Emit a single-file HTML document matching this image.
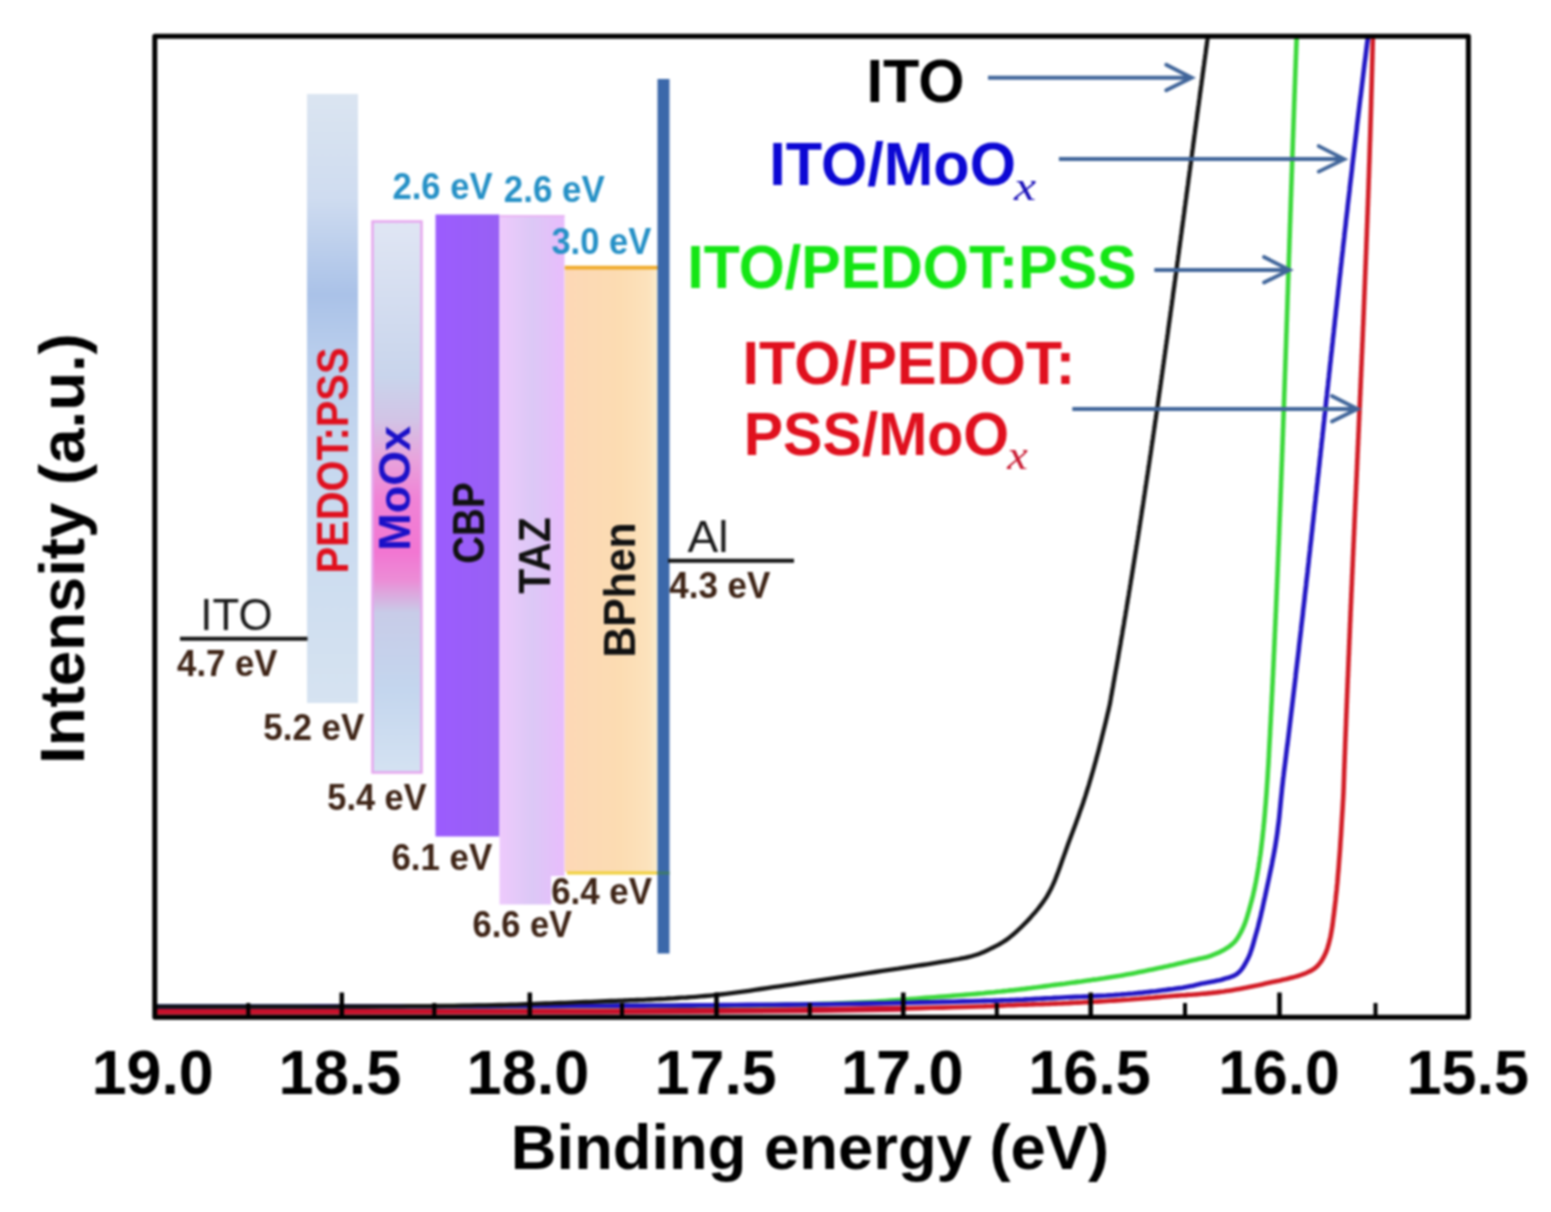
<!DOCTYPE html>
<html><head><meta charset="utf-8"><title>UPS spectra</title>
<style>html,body{margin:0;padding:0;background:#fff;}svg{display:block;}#wrap{width:1551px;height:1212px;filter:blur(1px);}</style></head>
<body><div id="wrap"><svg width="1551" height="1212" viewBox="0 0 1551 1212">
<rect width="1551" height="1212" fill="#fff"/>
<defs>
<linearGradient id="gPed" x1="0" y1="0" x2="0" y2="1">
 <stop offset="0" stop-color="#dbe5f1"/><stop offset="0.17" stop-color="#cfdcf0"/><stop offset="0.33" stop-color="#aac2e8"/><stop offset="0.42" stop-color="#b8cdec"/><stop offset="0.6" stop-color="#c6d8ef"/><stop offset="1" stop-color="#d6e3f1"/>
</linearGradient>
<linearGradient id="gMoo" x1="0" y1="0" x2="0" y2="1">
 <stop offset="0" stop-color="#e0e6f4"/><stop offset="0.28" stop-color="#c9d5ec"/><stop offset="0.36" stop-color="#d2c4e6"/><stop offset="0.43" stop-color="#e8a4dc"/><stop offset="0.50" stop-color="#f084d6"/>
 <stop offset="0.60" stop-color="#f276d2"/><stop offset="0.65" stop-color="#ec8cd6"/><stop offset="0.71" stop-color="#c8cce8"/><stop offset="0.85" stop-color="#c4d6ee"/><stop offset="1" stop-color="#d4e2f2"/>
</linearGradient>
<linearGradient id="gTaz" x1="0" y1="0" x2="1" y2="0">
 <stop offset="0" stop-color="#eecafc"/><stop offset="0.5" stop-color="#dcc8f6"/><stop offset="1" stop-color="#e8bcfc"/>
</linearGradient>
<linearGradient id="gBph" x1="0" y1="0" x2="1" y2="0">
 <stop offset="0" stop-color="#fdd8b6"/><stop offset="0.6" stop-color="#fcdcb2"/><stop offset="0.9" stop-color="#fce2bc"/><stop offset="1" stop-color="#faeccc"/>
</linearGradient>
<linearGradient id="gCbp" x1="0" y1="0" x2="1" y2="0">
 <stop offset="0" stop-color="#9c5cfe"/><stop offset="1" stop-color="#9860f4"/>
</linearGradient>
</defs>
<rect x="307" y="94" width="51" height="609" fill="url(#gPed)"/>
<rect x="372.5" y="221.5" width="49" height="551" fill="url(#gMoo)" stroke="#e6a6ee" stroke-width="2.5"/>
<rect x="435.5" y="214.5" width="64" height="622" fill="url(#gCbp)"/>
<rect x="499.5" y="215" width="65" height="689.5" fill="url(#gTaz)"/>
<line x1="499.5" y1="216" x2="564.5" y2="216" stroke="#e8b4f2" stroke-width="2"/>
<rect x="564.8" y="267" width="92.5" height="605" fill="url(#gBph)"/>
<line x1="564.8" y1="267.6" x2="658" y2="267.6" stroke="#f0aa2a" stroke-width="3.6"/>
<line x1="567" y1="873" x2="657.5" y2="873" stroke="#f0d038" stroke-width="3"/>
<rect x="551" y="876" width="104" height="32" fill="#ffffff"/>
<rect x="657.5" y="79" width="12" height="874.5" fill="#3b68aa"/>
<line x1="657.5" y1="873" x2="669.5" y2="873" stroke="#3e7a6a" stroke-width="3"/>
<line x1="180" y1="638.7" x2="307.5" y2="638.7" stroke="#151515" stroke-width="4"/>
<line x1="668" y1="560.8" x2="794" y2="560.8" stroke="#151515" stroke-width="4"/>
<text x="392.5" y="198.7" font-family="'Liberation Sans', sans-serif" font-weight="bold" font-style="normal" font-size="36" fill="#2590c6" textLength="100.1" lengthAdjust="spacingAndGlyphs">2.6 eV</text>
<text x="503.8" y="201.6" font-family="'Liberation Sans', sans-serif" font-weight="bold" font-style="normal" font-size="36" fill="#2590c6" textLength="101.0" lengthAdjust="spacingAndGlyphs">2.6 eV</text>
<text x="551.4" y="253.8" font-family="'Liberation Sans', sans-serif" font-weight="bold" font-style="normal" font-size="36" fill="#2590c6" textLength="99.8" lengthAdjust="spacingAndGlyphs">3.0 eV</text>
<text x="177.1" y="675.8" font-family="'Liberation Sans', sans-serif" font-weight="bold" font-style="normal" font-size="36" fill="#3e2416" textLength="100.3" lengthAdjust="spacingAndGlyphs">4.7 eV</text>
<text x="263.3" y="739.7" font-family="'Liberation Sans', sans-serif" font-weight="bold" font-style="normal" font-size="36" fill="#3e2416" textLength="100.9" lengthAdjust="spacingAndGlyphs">5.2 eV</text>
<text x="327.3" y="810.1" font-family="'Liberation Sans', sans-serif" font-weight="bold" font-style="normal" font-size="36" fill="#3e2416" textLength="99.3" lengthAdjust="spacingAndGlyphs">5.4 eV</text>
<text x="391.4" y="869.7" font-family="'Liberation Sans', sans-serif" font-weight="bold" font-style="normal" font-size="36" fill="#3e2416" textLength="100.8" lengthAdjust="spacingAndGlyphs">6.1 eV</text>
<text x="551.2" y="904.3" font-family="'Liberation Sans', sans-serif" font-weight="bold" font-style="normal" font-size="36" fill="#3e2416" textLength="100.8" lengthAdjust="spacingAndGlyphs">6.4 eV</text>
<text x="472.5" y="936.5" font-family="'Liberation Sans', sans-serif" font-weight="bold" font-style="normal" font-size="36" fill="#3e2416" textLength="99.6" lengthAdjust="spacingAndGlyphs">6.6 eV</text>
<text x="669.3" y="598.1" font-family="'Liberation Sans', sans-serif" font-weight="bold" font-style="normal" font-size="36" fill="#3e2416" textLength="101.1" lengthAdjust="spacingAndGlyphs">4.3 eV</text>
<text x="200.3" y="629.8" font-family="'Liberation Sans', sans-serif" font-weight="normal" font-style="normal" font-size="45" fill="#1a1a1a" textLength="72.2" lengthAdjust="spacingAndGlyphs">ITO</text>
<text x="687.6" y="552.2" font-family="'Liberation Sans', sans-serif" font-weight="normal" font-style="normal" font-size="45" fill="#1a1a1a" textLength="41.0" lengthAdjust="spacingAndGlyphs">Al</text>
<text transform="translate(347.8,573.6) rotate(-90)" x="0" y="0" font-family="'Liberation Sans', sans-serif" font-weight="bold" font-style="normal" font-size="45" fill="#e0101e" textLength="226.2" lengthAdjust="spacingAndGlyphs">PEDOT:PSS</text>
<text transform="translate(410.2,550.7) rotate(-90)" x="0" y="0" font-family="'Liberation Sans', sans-serif" font-weight="bold" font-style="normal" font-size="45" fill="#1a10c8" textLength="124.8" lengthAdjust="spacingAndGlyphs">MoOx</text>
<text transform="translate(484.4,563.8) rotate(-90)" x="0" y="0" font-family="'Liberation Sans', sans-serif" font-weight="bold" font-style="normal" font-size="45" fill="#111111" textLength="81.4" lengthAdjust="spacingAndGlyphs">CBP</text>
<text transform="translate(549.8,593.8) rotate(-90)" x="0" y="0" font-family="'Liberation Sans', sans-serif" font-weight="bold" font-style="normal" font-size="45" fill="#111111" textLength="76.7" lengthAdjust="spacingAndGlyphs">TAZ</text>
<text transform="translate(634.5,657.5) rotate(-90)" x="0" y="0" font-family="'Liberation Sans', sans-serif" font-weight="bold" font-style="normal" font-size="45" fill="#111111" textLength="135.2" lengthAdjust="spacingAndGlyphs">BPhen</text>
<clipPath id="clip"><rect x="154.8" y="36.3" width="1313.6" height="981.0"/></clipPath>
<g clip-path="url(#clip)" fill="none" stroke-linejoin="round" stroke-linecap="round">
<path d="M1373.2,20.0 L1373.2,21.7 L1373.2,23.3 L1373.1,25.0 L1373.1,26.7 L1373.0,28.3 L1373.0,30.0 L1373.0,31.7 L1372.9,33.3 L1372.9,35.0 L1372.9,36.7 L1372.8,38.3 L1372.8,40.0 L1372.8,41.7 L1372.7,43.3 L1372.7,45.0 L1372.6,46.7 L1372.6,48.3 L1372.6,50.0 L1372.5,51.7 L1372.5,53.3 L1372.4,55.0 L1372.4,56.7 L1372.4,58.3 L1372.3,60.0 L1372.3,61.7 L1372.2,63.3 L1372.2,65.0 L1372.1,66.7 L1372.1,68.3 L1372.1,70.0 L1372.0,71.7 L1372.0,73.3 L1371.9,75.0 L1371.9,76.7 L1371.8,78.3 L1371.8,80.0 L1371.8,81.7 L1371.7,83.3 L1371.7,85.0 L1371.6,86.7 L1371.6,88.3 L1371.5,90.0 L1371.5,91.7 L1371.4,93.3 L1371.4,95.0 L1371.3,96.7 L1371.3,98.3 L1371.2,100.0 L1371.2,101.7 L1371.2,103.3 L1371.1,105.0 L1371.1,106.7 L1371.0,108.3 L1371.0,110.0 L1370.9,111.7 L1370.9,113.3 L1370.8,115.0 L1370.8,116.7 L1370.7,118.3 L1370.7,120.0 L1370.6,121.7 L1370.6,123.3 L1370.5,125.0 L1370.5,126.7 L1370.4,128.3 L1370.4,130.0 L1370.3,131.7 L1370.3,133.3 L1370.2,135.0 L1370.2,136.7 L1370.1,138.3 L1370.1,140.0 L1370.0,141.7 L1369.9,143.3 L1369.9,145.0 L1369.8,146.7 L1369.8,148.3 L1369.7,150.0 L1369.7,151.7 L1369.6,153.3 L1369.6,155.0 L1369.5,156.7 L1369.5,158.3 L1369.4,160.0 L1369.4,161.7 L1369.3,163.3 L1369.2,165.0 L1369.2,166.7 L1369.1,168.3 L1369.1,170.0 L1369.0,171.7 L1369.0,173.3 L1368.9,175.0 L1368.9,176.7 L1368.8,178.3 L1368.7,180.0 L1368.7,181.7 L1368.6,183.3 L1368.6,185.0 L1368.5,186.7 L1368.5,188.3 L1368.4,190.0 L1368.3,191.7 L1368.3,193.3 L1368.2,195.0 L1368.2,196.7 L1368.1,198.3 L1368.0,200.0 L1368.0,201.7 L1367.9,203.3 L1367.9,205.0 L1367.8,206.7 L1367.7,208.3 L1367.7,210.0 L1367.6,211.7 L1367.6,213.3 L1367.5,215.0 L1367.4,216.7 L1367.4,218.3 L1367.3,220.0 L1367.3,221.7 L1367.2,223.3 L1367.1,225.0 L1367.1,226.7 L1367.0,228.3 L1366.9,230.0 L1366.9,231.7 L1366.8,233.3 L1366.8,235.0 L1366.7,236.7 L1366.6,238.3 L1366.6,240.0 L1366.5,241.7 L1366.4,243.3 L1366.4,245.0 L1366.3,246.7 L1366.3,248.3 L1366.2,250.0 L1366.1,251.7 L1366.1,253.3 L1366.0,255.0 L1365.9,256.7 L1365.9,258.3 L1365.8,260.0 L1365.7,261.7 L1365.7,263.3 L1365.6,265.0 L1365.5,266.7 L1365.5,268.3 L1365.4,270.0 L1365.3,271.7 L1365.3,273.3 L1365.2,275.0 L1365.1,276.7 L1365.1,278.3 L1365.0,280.0 L1364.9,281.7 L1364.9,283.3 L1364.8,285.0 L1364.7,286.7 L1364.7,288.3 L1364.6,290.0 L1364.5,291.7 L1364.5,293.3 L1364.4,295.0 L1364.3,296.7 L1364.3,298.3 L1364.2,300.0 L1364.1,301.7 L1364.1,303.3 L1364.0,305.0 L1363.9,306.7 L1363.9,308.3 L1363.8,310.0 L1363.7,311.7 L1363.7,313.3 L1363.6,315.0 L1363.5,316.7 L1363.5,318.3 L1363.4,320.0 L1363.3,321.7 L1363.3,323.3 L1363.2,325.0 L1363.1,326.7 L1363.0,328.3 L1363.0,330.0 L1362.9,331.7 L1362.8,333.3 L1362.8,335.0 L1362.7,336.7 L1362.6,338.3 L1362.6,340.0 L1362.5,341.7 L1362.4,343.3 L1362.3,345.0 L1362.3,346.7 L1362.2,348.3 L1362.1,350.0 L1362.1,351.7 L1362.0,353.3 L1361.9,355.0 L1361.8,356.7 L1361.8,358.3 L1361.7,360.0 L1361.6,361.7 L1361.6,363.3 L1361.5,365.0 L1361.4,366.7 L1361.3,368.3 L1361.3,370.0 L1361.2,371.7 L1361.1,373.3 L1361.1,375.0 L1361.0,376.7 L1360.9,378.3 L1360.8,380.0 L1360.8,381.7 L1360.7,383.3 L1360.6,385.0 L1360.6,386.7 L1360.5,388.3 L1360.4,390.0 L1360.3,391.7 L1360.3,393.3 L1360.2,395.0 L1360.1,396.7 L1360.0,398.3 L1360.0,400.0 L1359.9,401.7 L1359.8,403.3 L1359.8,405.0 L1359.7,406.7 L1359.6,408.3 L1359.5,410.0 L1359.5,411.7 L1359.4,413.3 L1359.3,415.0 L1359.2,416.7 L1359.2,418.3 L1359.1,420.0 L1359.0,421.7 L1358.9,423.3 L1358.9,425.0 L1358.8,426.7 L1358.7,428.3 L1358.7,430.0 L1358.6,431.7 L1358.5,433.3 L1358.4,435.0 L1358.4,436.7 L1358.3,438.3 L1358.2,440.0 L1358.1,441.7 L1358.1,443.3 L1358.0,445.0 L1357.9,446.7 L1357.8,448.3 L1357.8,450.0 L1357.7,451.7 L1357.6,453.3 L1357.5,455.0 L1357.5,456.7 L1357.4,458.3 L1357.3,460.0 L1357.2,461.7 L1357.2,463.3 L1357.1,465.0 L1357.0,466.7 L1357.0,468.3 L1356.9,470.0 L1356.8,471.7 L1356.7,473.3 L1356.7,475.0 L1356.6,476.7 L1356.5,478.3 L1356.4,480.0 L1356.4,481.7 L1356.3,483.3 L1356.2,485.0 L1356.1,486.7 L1356.1,488.3 L1356.0,490.0 L1355.9,491.7 L1355.8,493.3 L1355.8,495.0 L1355.7,496.7 L1355.6,498.3 L1355.5,500.0 L1355.5,501.7 L1355.4,503.3 L1355.3,505.0 L1355.2,506.7 L1355.2,508.3 L1355.1,510.0 L1355.0,511.7 L1354.9,513.3 L1354.9,515.0 L1354.8,516.7 L1354.7,518.3 L1354.6,520.0 L1354.6,521.7 L1354.5,523.3 L1354.4,525.0 L1354.4,526.7 L1354.3,528.3 L1354.2,530.0 L1354.1,531.7 L1354.1,533.3 L1354.0,535.0 L1353.9,536.7 L1353.8,538.3 L1353.8,540.0 L1353.7,541.7 L1353.6,543.3 L1353.5,545.0 L1353.5,546.7 L1353.4,548.3 L1353.3,550.0 L1353.2,551.7 L1353.2,553.3 L1353.1,555.0 L1353.0,556.7 L1352.9,558.3 L1352.9,560.0 L1352.8,561.7 L1352.7,563.3 L1352.7,565.0 L1352.6,566.7 L1352.5,568.3 L1352.4,570.0 L1352.4,571.7 L1352.3,573.3 L1352.2,575.0 L1352.1,576.7 L1352.1,578.3 L1352.0,580.0 L1351.9,581.7 L1351.9,583.3 L1351.8,585.0 L1351.7,586.7 L1351.6,588.3 L1351.6,590.0 L1351.5,591.7 L1351.4,593.3 L1351.3,595.0 L1351.3,596.7 L1351.2,598.3 L1351.1,600.0 L1351.1,601.7 L1351.0,603.3 L1350.9,605.0 L1350.8,606.7 L1350.8,608.3 L1350.7,610.0 L1350.6,611.7 L1350.5,613.3 L1350.5,615.0 L1350.4,616.7 L1350.3,618.3 L1350.3,620.0 L1350.2,621.7 L1350.1,623.3 L1350.0,625.0 L1350.0,626.7 L1349.9,628.3 L1349.8,630.0 L1349.8,631.7 L1349.7,633.3 L1349.6,635.0 L1349.6,636.7 L1349.5,638.3 L1349.4,640.0 L1349.3,641.7 L1349.3,643.3 L1349.2,645.0 L1349.1,646.7 L1349.1,648.3 L1349.0,650.0 L1348.9,651.7 L1348.9,653.3 L1348.8,655.0 L1348.7,656.7 L1348.6,658.3 L1348.6,660.0 L1348.5,661.7 L1348.4,663.3 L1348.4,665.0 L1348.3,666.7 L1348.2,668.3 L1348.2,670.0 L1348.1,671.7 L1348.0,673.3 L1348.0,675.0 L1347.9,676.7 L1347.8,678.3 L1347.7,680.0 L1347.7,681.7 L1347.6,683.3 L1347.5,685.0 L1347.5,686.7 L1347.4,688.3 L1347.3,690.0 L1347.3,691.7 L1347.2,693.3 L1347.1,695.0 L1347.1,696.7 L1347.0,698.3 L1346.9,700.0 L1346.9,701.7 L1346.8,703.3 L1346.7,705.0 L1346.7,706.7 L1346.6,708.3 L1346.5,710.0 L1346.5,711.7 L1346.4,713.3 L1346.3,715.0 L1346.3,716.7 L1346.2,718.3 L1346.1,720.0 L1346.1,721.7 L1346.0,723.3 L1346.0,725.0 L1345.9,726.7 L1345.8,728.3 L1345.8,730.0 L1345.7,731.7 L1345.6,733.3 L1345.6,735.0 L1345.5,736.7 L1345.4,738.3 L1345.4,740.0 L1345.3,741.7 L1345.2,743.3 L1345.2,745.0 L1345.1,746.7 L1345.1,748.3 L1345.0,750.0 L1344.9,751.7 L1344.9,753.3 L1344.8,755.0 L1344.7,756.7 L1344.7,758.3 L1344.6,760.0 L1344.6,761.7 L1344.5,763.4 L1344.4,765.1 L1344.4,766.8 L1344.3,768.5 L1344.2,770.2 L1344.2,771.9 L1344.1,773.6 L1344.1,775.3 L1344.0,776.9 L1344.0,778.5 L1343.9,780.0 L1343.9,781.2 L1343.8,782.4 L1343.8,783.4 L1343.8,784.4 L1343.7,785.5 L1343.7,786.5 L1343.7,787.5 L1343.6,788.6 L1343.6,789.8 L1343.5,791.1 L1343.5,792.5 L1343.4,794.0 L1343.2,798.1 L1342.9,803.0 L1342.6,808.6 L1342.2,814.7 L1341.8,821.2 L1341.4,827.9 L1341.0,834.8 L1340.5,841.7 L1340.1,848.4 L1339.6,854.9 L1339.1,861.0 L1338.7,866.6 L1338.4,870.6 L1338.0,874.6 L1337.7,878.4 L1337.4,882.2 L1337.0,885.9 L1336.7,889.5 L1336.3,893.1 L1335.9,896.5 L1335.6,900.0 L1335.2,903.3 L1334.8,906.6 L1334.4,909.9 L1334.1,912.5 L1333.8,915.2 L1333.4,917.7 L1333.1,920.3 L1332.8,922.8 L1332.5,925.2 L1332.1,927.6 L1331.7,930.0 L1331.3,932.3 L1330.9,934.5 L1330.5,936.7 L1330.0,938.8 L1329.6,940.4 L1329.2,942.0 L1328.8,943.6 L1328.4,945.1 L1327.9,946.6 L1327.5,948.0 L1327.0,949.5 L1326.5,950.9 L1326.0,952.2 L1325.4,953.5 L1324.8,954.8 L1324.2,956.1 L1323.6,957.2 L1323.0,958.3 L1322.4,959.3 L1321.8,960.4 L1321.1,961.4 L1320.4,962.4 L1319.7,963.3 L1318.9,964.2 L1318.2,965.1 L1317.4,966.0 L1316.5,966.8 L1315.6,967.6 L1314.6,968.4 L1313.6,969.1 L1312.5,969.8 L1311.4,970.5 L1310.2,971.1 L1309.1,971.7 L1307.8,972.2 L1306.6,972.8 L1305.3,973.3 L1303.9,973.8 L1302.5,974.4 L1301.1,974.9 L1299.1,975.6 L1297.0,976.3 L1294.8,976.9 L1292.5,977.5 L1290.1,978.1 L1287.7,978.7 L1285.2,979.3 L1282.7,979.8 L1280.1,980.4 L1277.5,980.9 L1274.9,981.5 L1272.2,982.1 L1268.9,982.8 L1265.4,983.6 L1261.8,984.4 L1258.1,985.2 L1254.4,985.9 L1250.6,986.7 L1246.8,987.5 L1243.0,988.2 L1239.3,988.9 L1235.7,989.6 L1232.2,990.2 L1228.9,990.7 L1226.3,991.1 L1223.7,991.5 L1221.2,991.8 L1218.8,992.1 L1216.4,992.4 L1214.0,992.6 L1211.6,992.9 L1209.3,993.1 L1207.0,993.4 L1204.6,993.6 L1202.3,993.8 L1200.0,994.0 L1197.9,994.2 L1195.8,994.4 L1193.7,994.5 L1191.6,994.7 L1189.6,994.8 L1187.6,994.9 L1185.5,995.1 L1183.5,995.2 L1181.4,995.3 L1179.2,995.5 L1177.0,995.6 L1174.7,995.8 L1171.8,996.0 L1168.7,996.3 L1165.6,996.5 L1162.4,996.8 L1159.2,997.1 L1155.9,997.4 L1152.5,997.7 L1149.2,997.9 L1145.9,998.2 L1142.5,998.5 L1139.3,998.8 L1136.0,999.0 L1132.8,999.2 L1129.6,999.5 L1126.3,999.7 L1123.1,999.9 L1119.9,1000.2 L1116.7,1000.4 L1113.5,1000.6 L1110.3,1000.8 L1107.1,1001.0 L1103.8,1001.2 L1100.6,1001.4 L1097.4,1001.6 L1094.2,1001.8 L1091.0,1002.0 L1087.7,1002.1 L1084.5,1002.3 L1081.3,1002.5 L1078.1,1002.6 L1074.8,1002.8 L1071.6,1002.9 L1068.4,1003.1 L1065.2,1003.2 L1061.9,1003.4 L1058.7,1003.5 L1055.5,1003.6 L1052.3,1003.7 L1049.0,1003.9 L1045.8,1004.0 L1042.6,1004.1 L1039.4,1004.2 L1036.2,1004.3 L1032.9,1004.4 L1029.7,1004.5 L1026.5,1004.6 L1023.2,1004.7 L1020.0,1004.8 L1016.8,1004.9 L1013.6,1005.1 L1010.6,1005.2 L1007.6,1005.3 L1004.5,1005.5 L1001.5,1005.6 L998.3,1005.8 L995.1,1005.9 L991.6,1006.1 L988.0,1006.2 L984.1,1006.4 L980.0,1006.5 L971.8,1006.8 L962.8,1007.0 L953.0,1007.3 L942.5,1007.6 L931.6,1007.8 L920.2,1008.1 L908.6,1008.4 L896.8,1008.6 L884.9,1008.9 L873.1,1009.1 L861.4,1009.3 L850.0,1009.5 L837.9,1009.7 L825.9,1009.9 L813.8,1010.0 L801.6,1010.2 L789.4,1010.3 L777.0,1010.4 L764.6,1010.5 L752.0,1010.6 L739.3,1010.7 L726.4,1010.8 L713.3,1010.9 L700.0,1011.0 L684.5,1011.1 L668.9,1011.2 L653.3,1011.2 L637.4,1011.3 L621.4,1011.3 L605.1,1011.3 L588.6,1011.4 L571.7,1011.4 L554.4,1011.4 L536.8,1011.4 L518.6,1011.5 L500.0,1011.5 L474.6,1011.5 L448.2,1011.6 L420.7,1011.6 L392.5,1011.6 L363.6,1011.7 L334.2,1011.7 L304.6,1011.7 L274.7,1011.7 L244.9,1011.7 L215.2,1011.8 L185.9,1011.8 L157.0,1011.8" stroke="#d21c26" stroke-width="4.6"/>
<path d="M157,1011.8 L600,1011.4 L800,1010.3 L900,1008.8" stroke="#c8102a" stroke-width="6"/>
<path d="M1297.3,20.0 L1297.3,21.7 L1297.2,23.3 L1297.1,25.0 L1297.1,26.7 L1297.0,28.3 L1296.9,30.0 L1296.9,31.7 L1296.8,33.3 L1296.7,35.0 L1296.7,36.7 L1296.6,38.3 L1296.6,40.0 L1296.5,41.7 L1296.4,43.3 L1296.4,45.0 L1296.3,46.7 L1296.2,48.3 L1296.2,50.0 L1296.1,51.7 L1296.1,53.3 L1296.0,55.0 L1295.9,56.7 L1295.9,58.3 L1295.8,60.0 L1295.7,61.7 L1295.7,63.3 L1295.6,65.0 L1295.6,66.7 L1295.5,68.3 L1295.4,70.0 L1295.4,71.7 L1295.3,73.3 L1295.3,75.0 L1295.2,76.7 L1295.1,78.3 L1295.1,80.0 L1295.0,81.7 L1295.0,83.3 L1294.9,85.0 L1294.8,86.7 L1294.8,88.3 L1294.7,90.0 L1294.7,91.7 L1294.6,93.3 L1294.5,95.0 L1294.5,96.7 L1294.4,98.3 L1294.4,100.0 L1294.3,101.7 L1294.2,103.3 L1294.2,105.0 L1294.1,106.7 L1294.1,108.3 L1294.0,110.0 L1293.9,111.7 L1293.9,113.3 L1293.8,115.0 L1293.8,116.7 L1293.7,118.3 L1293.6,120.0 L1293.6,121.7 L1293.5,123.3 L1293.5,125.0 L1293.4,126.7 L1293.4,128.3 L1293.3,130.0 L1293.2,131.7 L1293.2,133.3 L1293.1,135.0 L1293.1,136.7 L1293.0,138.3 L1292.9,140.0 L1292.9,141.7 L1292.8,143.3 L1292.8,145.0 L1292.7,146.7 L1292.7,148.3 L1292.6,150.0 L1292.5,151.7 L1292.5,153.3 L1292.4,155.0 L1292.4,156.7 L1292.3,158.3 L1292.3,160.0 L1292.2,161.7 L1292.1,163.3 L1292.1,165.0 L1292.0,166.7 L1292.0,168.3 L1291.9,170.0 L1291.9,171.7 L1291.8,173.3 L1291.7,175.0 L1291.7,176.7 L1291.6,178.3 L1291.6,180.0 L1291.5,181.7 L1291.5,183.3 L1291.4,185.0 L1291.3,186.7 L1291.3,188.3 L1291.2,190.0 L1291.2,191.7 L1291.1,193.3 L1291.1,195.0 L1291.0,196.7 L1290.9,198.3 L1290.9,200.0 L1290.8,201.7 L1290.8,203.3 L1290.7,205.0 L1290.7,206.7 L1290.6,208.3 L1290.6,210.0 L1290.5,211.7 L1290.4,213.3 L1290.4,215.0 L1290.3,216.7 L1290.3,218.3 L1290.2,220.0 L1290.2,221.7 L1290.1,223.3 L1290.0,225.0 L1290.0,226.7 L1289.9,228.3 L1289.9,230.0 L1289.8,231.7 L1289.8,233.3 L1289.7,235.0 L1289.7,236.7 L1289.6,238.3 L1289.5,240.0 L1289.5,241.7 L1289.4,243.3 L1289.4,245.0 L1289.3,246.7 L1289.3,248.3 L1289.2,250.0 L1289.2,251.7 L1289.1,253.3 L1289.0,255.0 L1289.0,256.7 L1288.9,258.3 L1288.9,260.0 L1288.8,261.7 L1288.8,263.3 L1288.7,265.0 L1288.7,266.7 L1288.6,268.3 L1288.5,270.0 L1288.5,271.7 L1288.4,273.3 L1288.4,275.0 L1288.3,276.7 L1288.3,278.3 L1288.2,280.0 L1288.1,281.7 L1288.1,283.3 L1288.0,285.0 L1288.0,286.7 L1287.9,288.3 L1287.9,290.0 L1287.8,291.7 L1287.8,293.3 L1287.7,295.0 L1287.6,296.7 L1287.6,298.3 L1287.5,300.0 L1287.5,301.7 L1287.4,303.3 L1287.4,305.0 L1287.3,306.7 L1287.3,308.3 L1287.2,310.0 L1287.1,311.7 L1287.1,313.3 L1287.0,315.0 L1287.0,316.7 L1286.9,318.3 L1286.9,320.0 L1286.8,321.7 L1286.7,323.3 L1286.7,325.0 L1286.6,326.7 L1286.6,328.3 L1286.5,330.0 L1286.5,331.7 L1286.4,333.3 L1286.3,335.0 L1286.3,336.7 L1286.2,338.3 L1286.2,340.0 L1286.1,341.7 L1286.1,343.3 L1286.0,345.0 L1286.0,346.7 L1285.9,348.3 L1285.8,350.0 L1285.8,351.7 L1285.7,353.3 L1285.7,355.0 L1285.6,356.7 L1285.6,358.3 L1285.5,360.0 L1285.4,361.7 L1285.4,363.3 L1285.3,365.0 L1285.3,366.7 L1285.2,368.3 L1285.2,370.0 L1285.1,371.7 L1285.0,373.3 L1285.0,375.0 L1284.9,376.7 L1284.9,378.3 L1284.8,380.0 L1284.7,381.7 L1284.7,383.3 L1284.6,385.0 L1284.6,386.7 L1284.5,388.3 L1284.5,390.0 L1284.4,391.7 L1284.3,393.3 L1284.3,395.0 L1284.2,396.7 L1284.2,398.3 L1284.1,400.0 L1284.0,401.7 L1284.0,403.3 L1283.9,405.0 L1283.9,406.7 L1283.8,408.3 L1283.8,410.0 L1283.7,411.7 L1283.6,413.3 L1283.6,415.0 L1283.5,416.7 L1283.5,418.3 L1283.4,420.0 L1283.3,421.7 L1283.3,423.3 L1283.2,425.0 L1283.2,426.7 L1283.1,428.3 L1283.0,430.0 L1283.0,431.7 L1282.9,433.3 L1282.9,435.0 L1282.8,436.7 L1282.7,438.3 L1282.7,440.0 L1282.6,441.7 L1282.6,443.3 L1282.5,445.0 L1282.4,446.7 L1282.4,448.3 L1282.3,450.0 L1282.3,451.7 L1282.2,453.3 L1282.1,455.0 L1282.1,456.7 L1282.0,458.3 L1282.0,460.0 L1281.9,461.7 L1281.8,463.3 L1281.8,465.0 L1281.7,466.7 L1281.6,468.3 L1281.6,470.0 L1281.5,471.7 L1281.5,473.3 L1281.4,475.0 L1281.3,476.7 L1281.3,478.3 L1281.2,480.0 L1281.1,481.7 L1281.1,483.3 L1281.0,485.0 L1281.0,486.7 L1280.9,488.3 L1280.8,490.0 L1280.8,491.7 L1280.7,493.3 L1280.6,495.0 L1280.6,496.7 L1280.5,498.3 L1280.5,500.0 L1280.4,501.7 L1280.3,503.3 L1280.3,505.0 L1280.2,506.7 L1280.1,508.3 L1280.1,510.0 L1280.0,511.7 L1279.9,513.3 L1279.9,515.0 L1279.8,516.7 L1279.7,518.3 L1279.7,520.0 L1279.6,521.7 L1279.5,523.3 L1279.5,525.0 L1279.4,526.7 L1279.3,528.3 L1279.3,530.0 L1279.2,531.7 L1279.2,533.3 L1279.1,535.0 L1279.0,536.7 L1279.0,538.3 L1278.9,540.0 L1278.8,541.7 L1278.8,543.3 L1278.7,545.0 L1278.6,546.7 L1278.5,548.3 L1278.5,550.0 L1278.4,551.7 L1278.3,553.3 L1278.3,555.0 L1278.2,556.7 L1278.1,558.3 L1278.1,560.0 L1278.0,561.7 L1277.9,563.3 L1277.9,565.0 L1277.8,566.7 L1277.7,568.3 L1277.7,570.0 L1277.6,571.7 L1277.5,573.3 L1277.5,575.0 L1277.4,576.7 L1277.3,578.3 L1277.2,580.0 L1277.2,581.7 L1277.1,583.3 L1277.0,585.0 L1277.0,586.7 L1276.9,588.3 L1276.8,590.0 L1276.7,591.7 L1276.7,593.3 L1276.6,595.0 L1276.5,596.7 L1276.5,598.3 L1276.4,600.0 L1276.3,601.7 L1276.2,603.3 L1276.2,605.0 L1276.1,606.7 L1276.0,608.3 L1276.0,610.0 L1275.9,611.7 L1275.8,613.3 L1275.7,615.0 L1275.7,616.7 L1275.6,618.3 L1275.5,620.0 L1275.4,621.7 L1275.4,623.3 L1275.3,625.0 L1275.2,626.7 L1275.1,628.3 L1275.1,630.0 L1275.0,631.7 L1274.9,633.3 L1274.8,635.0 L1274.8,636.7 L1274.7,638.3 L1274.6,640.0 L1274.5,641.7 L1274.5,643.3 L1274.4,645.0 L1274.3,646.7 L1274.2,648.3 L1274.2,650.0 L1274.1,651.7 L1274.0,653.3 L1273.9,655.0 L1273.8,656.7 L1273.8,658.3 L1273.7,660.0 L1273.6,661.7 L1273.5,663.3 L1273.5,665.0 L1273.4,666.7 L1273.3,668.3 L1273.2,670.0 L1273.1,671.7 L1273.1,673.3 L1273.0,675.0 L1272.9,676.7 L1272.8,678.3 L1272.7,680.0 L1272.7,681.7 L1272.6,683.3 L1272.5,685.0 L1272.4,686.7 L1272.3,688.3 L1272.3,690.0 L1272.2,691.7 L1272.1,693.3 L1272.0,695.0 L1271.9,696.7 L1271.8,698.3 L1271.8,700.0 L1271.7,701.7 L1271.6,703.3 L1271.5,705.0 L1271.4,706.7 L1271.3,708.3 L1271.3,710.0 L1271.2,711.7 L1271.1,713.3 L1271.0,715.0 L1270.9,716.7 L1270.8,718.3 L1270.8,720.0 L1270.7,721.7 L1270.6,723.3 L1270.5,725.0 L1270.4,726.7 L1270.3,728.3 L1270.2,730.0 L1270.1,731.7 L1270.1,733.3 L1270.0,735.0 L1269.9,736.7 L1269.8,738.3 L1269.7,740.0 L1269.6,741.7 L1269.5,743.5 L1269.4,745.3 L1269.3,747.2 L1269.2,749.0 L1269.1,750.8 L1269.0,752.6 L1268.9,754.3 L1268.9,755.9 L1268.8,757.4 L1268.7,758.8 L1268.6,760.0 L1268.6,760.5 L1268.6,761.0 L1268.6,761.4 L1268.5,761.7 L1268.5,762.1 L1268.5,762.4 L1268.5,762.7 L1268.5,763.1 L1268.5,763.5 L1268.4,763.9 L1268.4,764.4 L1268.4,765.0 L1268.2,767.2 L1268.0,770.1 L1267.8,773.4 L1267.6,777.2 L1267.3,781.3 L1267.0,785.6 L1266.7,790.1 L1266.4,794.6 L1266.0,799.2 L1265.7,803.6 L1265.3,807.8 L1265.0,811.7 L1264.7,815.2 L1264.4,818.6 L1264.1,822.1 L1263.7,825.5 L1263.4,828.9 L1263.0,832.3 L1262.7,835.6 L1262.3,839.0 L1261.9,842.3 L1261.5,845.6 L1261.1,848.9 L1260.7,852.1 L1260.3,855.1 L1259.8,858.1 L1259.4,861.1 L1258.9,864.1 L1258.5,867.1 L1258.0,870.1 L1257.5,873.0 L1257.0,875.9 L1256.5,878.7 L1256.0,881.5 L1255.4,884.2 L1254.9,886.8 L1254.5,888.9 L1254.0,891.0 L1253.5,893.0 L1253.1,895.0 L1252.6,897.0 L1252.1,898.9 L1251.6,900.8 L1251.1,902.6 L1250.6,904.5 L1250.1,906.3 L1249.6,908.1 L1249.1,909.9 L1248.7,911.4 L1248.2,913.0 L1247.8,914.5 L1247.3,916.0 L1246.9,917.4 L1246.4,918.9 L1246.0,920.3 L1245.5,921.7 L1245.0,923.1 L1244.5,924.5 L1243.9,925.8 L1243.3,927.2 L1242.7,928.5 L1242.1,929.8 L1241.5,931.1 L1240.8,932.4 L1240.1,933.7 L1239.4,934.9 L1238.7,936.1 L1238.0,937.3 L1237.2,938.5 L1236.4,939.6 L1235.6,940.7 L1234.7,941.7 L1233.9,942.6 L1233.0,943.4 L1232.1,944.2 L1231.2,945.0 L1230.2,945.7 L1229.3,946.5 L1228.3,947.1 L1227.3,947.8 L1226.2,948.4 L1225.2,949.1 L1224.2,949.7 L1223.1,950.3 L1222.0,950.9 L1220.8,951.5 L1219.7,952.1 L1218.5,952.7 L1217.3,953.2 L1216.1,953.7 L1214.9,954.2 L1213.6,954.7 L1212.4,955.2 L1211.2,955.7 L1209.9,956.1 L1208.7,956.5 L1207.5,956.9 L1206.3,957.2 L1205.2,957.5 L1204.1,957.8 L1202.9,958.1 L1201.7,958.3 L1200.6,958.6 L1199.3,958.8 L1198.1,959.1 L1196.8,959.4 L1195.4,959.7 L1194.0,960.0 L1191.8,960.5 L1189.4,961.1 L1186.9,961.7 L1184.3,962.3 L1181.6,962.9 L1178.9,963.5 L1176.1,964.2 L1173.2,964.9 L1170.4,965.5 L1167.5,966.2 L1164.6,966.8 L1161.8,967.4 L1158.7,968.1 L1155.6,968.7 L1152.4,969.4 L1149.2,970.1 L1146.0,970.8 L1142.7,971.4 L1139.5,972.1 L1136.2,972.8 L1132.9,973.4 L1129.7,974.0 L1126.4,974.6 L1123.2,975.2 L1120.0,975.8 L1116.8,976.3 L1113.5,976.8 L1110.3,977.3 L1107.1,977.8 L1103.9,978.3 L1100.6,978.7 L1097.4,979.2 L1094.2,979.6 L1091.0,980.1 L1087.7,980.5 L1084.5,981.0 L1081.3,981.5 L1078.0,981.9 L1074.6,982.4 L1071.3,982.8 L1068.0,983.2 L1064.7,983.7 L1061.4,984.1 L1058.1,984.5 L1054.9,984.9 L1051.8,985.3 L1048.8,985.7 L1045.8,986.1 L1043.5,986.4 L1041.3,986.7 L1039.1,987.0 L1037.0,987.3 L1035.0,987.5 L1032.9,987.8 L1030.9,988.1 L1028.8,988.3 L1026.7,988.6 L1024.6,988.9 L1022.3,989.1 L1020.0,989.4 L1017.0,989.7 L1013.9,990.1 L1010.7,990.4 L1007.5,990.8 L1004.2,991.1 L1000.8,991.5 L997.4,991.8 L994.0,992.2 L990.5,992.5 L987.0,992.8 L983.5,993.2 L980.0,993.5 L976.0,993.9 L972.0,994.2 L968.0,994.5 L963.9,994.9 L959.8,995.2 L955.6,995.5 L951.4,995.9 L947.2,996.2 L943.0,996.5 L938.7,996.8 L934.3,997.2 L930.0,997.5 L925.2,997.9 L920.4,998.3 L915.5,998.7 L910.6,999.1 L905.6,999.5 L900.6,999.9 L895.6,1000.3 L890.6,1000.6 L885.5,1001.0 L880.3,1001.4 L875.2,1001.7 L870.0,1002.0 L864.4,1002.3 L858.8,1002.6 L853.2,1002.9 L847.5,1003.1 L841.9,1003.3 L836.1,1003.6 L830.3,1003.8 L824.5,1003.9 L818.5,1004.1 L812.5,1004.3 L806.3,1004.4 L800.0,1004.6 L792.3,1004.8 L784.4,1004.9 L776.3,1005.0 L768.0,1005.1 L759.6,1005.2 L751.1,1005.2 L742.6,1005.3 L734.0,1005.3 L725.4,1005.4 L716.9,1005.4 L708.4,1005.5 L700.0,1005.5 L691.9,1005.6 L684.2,1005.6 L676.7,1005.6 L669.3,1005.7 L661.9,1005.7 L654.4,1005.7 L646.7,1005.8 L638.6,1005.8 L630.0,1005.8 L620.8,1005.8 L610.8,1005.9 L600.0,1005.9 L574.1,1006.0 L544.4,1006.0 L511.4,1006.1 L475.7,1006.1 L437.8,1006.2 L398.2,1006.3 L357.5,1006.3 L316.3,1006.4 L275.1,1006.4 L234.5,1006.5 L194.9,1006.5 L157.0,1006.6" stroke="#3ad83a" stroke-width="4.6"/>
<path d="M1370.1,20.0 L1369.9,21.7 L1369.7,23.3 L1369.5,25.0 L1369.3,26.7 L1369.0,28.3 L1368.8,30.0 L1368.6,31.7 L1368.4,33.3 L1368.2,35.0 L1368.0,36.7 L1367.8,38.3 L1367.6,40.0 L1367.4,41.7 L1367.1,43.3 L1366.9,45.0 L1366.7,46.7 L1366.5,48.3 L1366.3,50.0 L1366.1,51.7 L1365.9,53.3 L1365.7,55.0 L1365.5,56.7 L1365.3,58.3 L1365.1,60.0 L1364.8,61.7 L1364.6,63.3 L1364.4,65.0 L1364.2,66.7 L1364.0,68.3 L1363.8,70.0 L1363.6,71.7 L1363.4,73.3 L1363.2,75.0 L1363.0,76.7 L1362.8,78.3 L1362.6,80.0 L1362.4,81.7 L1362.2,83.3 L1362.0,85.0 L1361.8,86.7 L1361.6,88.3 L1361.4,90.0 L1361.2,91.7 L1361.0,93.3 L1360.8,95.0 L1360.6,96.7 L1360.3,98.3 L1360.1,100.0 L1359.9,101.7 L1359.7,103.3 L1359.5,105.0 L1359.3,106.7 L1359.1,108.3 L1358.9,110.0 L1358.7,111.7 L1358.5,113.3 L1358.3,115.0 L1358.1,116.7 L1357.9,118.3 L1357.7,120.0 L1357.5,121.7 L1357.3,123.3 L1357.1,125.0 L1356.9,126.7 L1356.8,128.3 L1356.6,130.0 L1356.4,131.7 L1356.2,133.3 L1356.0,135.0 L1355.8,136.7 L1355.6,138.3 L1355.4,140.0 L1355.2,141.7 L1355.0,143.3 L1354.8,145.0 L1354.6,146.7 L1354.4,148.3 L1354.2,150.0 L1354.0,151.7 L1353.8,153.3 L1353.6,155.0 L1353.4,156.7 L1353.2,158.3 L1353.0,160.0 L1352.8,161.7 L1352.6,163.3 L1352.4,165.0 L1352.2,166.7 L1352.1,168.3 L1351.9,170.0 L1351.7,171.7 L1351.5,173.3 L1351.3,175.0 L1351.1,176.7 L1350.9,178.3 L1350.7,180.0 L1350.5,181.7 L1350.3,183.3 L1350.1,185.0 L1349.9,186.7 L1349.7,188.3 L1349.6,190.0 L1349.4,191.7 L1349.2,193.3 L1349.0,195.0 L1348.8,196.7 L1348.6,198.3 L1348.4,200.0 L1348.2,201.7 L1348.0,203.3 L1347.8,205.0 L1347.6,206.7 L1347.5,208.3 L1347.3,210.0 L1347.1,211.7 L1346.9,213.3 L1346.7,215.0 L1346.5,216.7 L1346.3,218.3 L1346.1,220.0 L1345.9,221.7 L1345.8,223.3 L1345.6,225.0 L1345.4,226.7 L1345.2,228.3 L1345.0,230.0 L1344.8,231.7 L1344.6,233.3 L1344.4,235.0 L1344.3,236.7 L1344.1,238.3 L1343.9,240.0 L1343.7,241.7 L1343.5,243.3 L1343.3,245.0 L1343.1,246.7 L1342.9,248.3 L1342.8,250.0 L1342.6,251.7 L1342.4,253.3 L1342.2,255.0 L1342.0,256.7 L1341.8,258.3 L1341.6,260.0 L1341.5,261.7 L1341.3,263.3 L1341.1,265.0 L1340.9,266.7 L1340.7,268.3 L1340.5,270.0 L1340.4,271.7 L1340.2,273.3 L1340.0,275.0 L1339.8,276.7 L1339.6,278.3 L1339.4,280.0 L1339.2,281.7 L1339.1,283.3 L1338.9,285.0 L1338.7,286.7 L1338.5,288.3 L1338.3,290.0 L1338.1,291.7 L1338.0,293.3 L1337.8,295.0 L1337.6,296.7 L1337.4,298.3 L1337.2,300.0 L1337.0,301.7 L1336.9,303.3 L1336.7,305.0 L1336.5,306.7 L1336.3,308.3 L1336.1,310.0 L1335.9,311.7 L1335.8,313.3 L1335.6,315.0 L1335.4,316.7 L1335.2,318.3 L1335.0,320.0 L1334.8,321.7 L1334.7,323.3 L1334.5,325.0 L1334.3,326.7 L1334.1,328.3 L1333.9,330.0 L1333.8,331.7 L1333.6,333.3 L1333.4,335.0 L1333.2,336.7 L1333.0,338.3 L1332.8,340.0 L1332.7,341.7 L1332.5,343.3 L1332.3,345.0 L1332.1,346.7 L1331.9,348.3 L1331.8,350.0 L1331.6,351.7 L1331.4,353.3 L1331.2,355.0 L1331.0,356.7 L1330.8,358.3 L1330.7,360.0 L1330.5,361.7 L1330.3,363.3 L1330.1,365.0 L1329.9,366.7 L1329.8,368.3 L1329.6,370.0 L1329.4,371.7 L1329.2,373.3 L1329.0,375.0 L1328.9,376.7 L1328.7,378.3 L1328.5,380.0 L1328.3,381.7 L1328.1,383.3 L1328.0,385.0 L1327.8,386.7 L1327.6,388.3 L1327.4,390.0 L1327.2,391.7 L1327.0,393.3 L1326.9,395.0 L1326.7,396.7 L1326.5,398.3 L1326.3,400.0 L1326.1,401.7 L1326.0,403.3 L1325.8,405.0 L1325.6,406.7 L1325.4,408.3 L1325.2,410.0 L1325.1,411.7 L1324.9,413.3 L1324.7,415.0 L1324.5,416.7 L1324.3,418.3 L1324.2,420.0 L1324.0,421.7 L1323.8,423.3 L1323.6,425.0 L1323.4,426.7 L1323.3,428.3 L1323.1,430.0 L1322.9,431.7 L1322.7,433.3 L1322.5,435.0 L1322.4,436.7 L1322.2,438.3 L1322.0,440.0 L1321.8,441.7 L1321.6,443.3 L1321.4,445.0 L1321.3,446.7 L1321.1,448.3 L1320.9,450.0 L1320.7,451.7 L1320.5,453.3 L1320.4,455.0 L1320.2,456.7 L1320.0,458.3 L1319.8,460.0 L1319.6,461.7 L1319.5,463.3 L1319.3,465.0 L1319.1,466.7 L1318.9,468.3 L1318.7,470.0 L1318.6,471.7 L1318.4,473.3 L1318.2,475.0 L1318.0,476.7 L1317.8,478.3 L1317.6,480.0 L1317.5,481.7 L1317.3,483.3 L1317.1,485.0 L1316.9,486.7 L1316.7,488.3 L1316.6,490.0 L1316.4,491.7 L1316.2,493.3 L1316.0,495.0 L1315.8,496.7 L1315.6,498.3 L1315.5,500.0 L1315.3,501.7 L1315.1,503.3 L1314.9,505.0 L1314.7,506.7 L1314.5,508.3 L1314.4,510.0 L1314.2,511.7 L1314.0,513.3 L1313.8,515.0 L1313.6,516.7 L1313.5,518.3 L1313.3,520.0 L1313.1,521.7 L1312.9,523.3 L1312.7,525.0 L1312.5,526.7 L1312.4,528.3 L1312.2,530.0 L1312.0,531.7 L1311.8,533.3 L1311.6,535.0 L1311.4,536.7 L1311.3,538.3 L1311.1,540.0 L1310.9,541.7 L1310.7,543.3 L1310.5,545.0 L1310.3,546.7 L1310.1,548.3 L1310.0,550.0 L1309.8,551.7 L1309.6,553.3 L1309.4,555.0 L1309.2,556.7 L1309.0,558.3 L1308.8,560.0 L1308.7,561.7 L1308.5,563.3 L1308.3,565.0 L1308.1,566.7 L1307.9,568.3 L1307.7,570.0 L1307.6,571.7 L1307.4,573.3 L1307.2,575.0 L1307.0,576.7 L1306.8,578.3 L1306.6,580.0 L1306.4,581.7 L1306.2,583.3 L1306.1,585.0 L1305.9,586.7 L1305.7,588.3 L1305.5,590.0 L1305.3,591.7 L1305.1,593.3 L1304.9,595.0 L1304.7,596.7 L1304.6,598.3 L1304.4,600.0 L1304.2,601.7 L1304.0,603.3 L1303.8,605.0 L1303.6,606.7 L1303.4,608.3 L1303.2,610.0 L1303.0,611.7 L1302.9,613.3 L1302.7,615.0 L1302.5,616.7 L1302.3,618.3 L1302.1,620.0 L1301.9,621.7 L1301.7,623.3 L1301.5,625.0 L1301.3,626.7 L1301.1,628.3 L1301.0,630.0 L1300.8,631.7 L1300.6,633.3 L1300.4,635.0 L1300.2,636.7 L1300.0,638.3 L1299.8,640.0 L1299.6,641.7 L1299.4,643.3 L1299.2,645.0 L1299.0,646.7 L1298.9,648.3 L1298.7,650.0 L1298.5,651.7 L1298.3,653.3 L1298.1,655.0 L1297.9,656.7 L1297.7,658.3 L1297.5,660.0 L1297.3,661.7 L1297.1,663.3 L1296.9,665.0 L1296.7,666.7 L1296.5,668.3 L1296.3,670.0 L1296.1,671.7 L1295.9,673.3 L1295.7,675.0 L1295.6,676.7 L1295.4,678.3 L1295.2,680.0 L1295.0,681.7 L1294.8,683.3 L1294.6,685.0 L1294.4,686.7 L1294.2,688.3 L1294.0,690.0 L1293.8,691.7 L1293.6,693.3 L1293.4,695.0 L1293.2,696.7 L1293.0,698.3 L1292.8,700.0 L1292.6,701.7 L1292.4,703.3 L1292.2,705.0 L1292.0,706.7 L1291.8,708.3 L1291.6,710.0 L1291.4,711.7 L1291.2,713.3 L1291.0,715.0 L1290.8,716.7 L1290.6,718.3 L1290.4,720.0 L1290.2,721.7 L1290.0,723.3 L1289.8,725.0 L1289.6,726.7 L1289.4,728.3 L1289.2,730.0 L1289.0,731.7 L1288.8,733.3 L1288.6,735.0 L1288.4,736.7 L1288.2,738.3 L1288.0,740.0 L1287.8,741.7 L1287.6,743.3 L1287.4,745.0 L1287.1,746.7 L1286.9,748.3 L1286.7,750.0 L1286.5,751.7 L1286.3,753.3 L1286.1,755.0 L1285.9,756.7 L1285.7,758.3 L1285.5,760.0 L1285.3,761.6 L1285.1,763.2 L1284.9,764.8 L1284.7,766.3 L1284.5,767.8 L1284.3,769.4 L1284.1,770.9 L1283.9,772.6 L1283.7,774.3 L1283.5,776.1 L1283.2,778.0 L1283.0,780.0 L1282.6,783.8 L1282.1,787.9 L1281.7,792.4 L1281.2,797.1 L1280.7,802.1 L1280.2,807.2 L1279.7,812.4 L1279.2,817.6 L1278.6,822.8 L1277.9,827.9 L1277.3,832.9 L1276.6,837.7 L1275.9,842.2 L1275.2,846.6 L1274.4,851.0 L1273.6,855.4 L1272.7,859.8 L1271.9,864.2 L1271.0,868.5 L1270.1,872.8 L1269.2,877.1 L1268.3,881.4 L1267.4,885.5 L1266.5,889.7 L1265.7,893.5 L1264.9,897.3 L1264.0,901.1 L1263.2,904.9 L1262.4,908.6 L1261.5,912.3 L1260.7,916.0 L1259.8,919.6 L1258.9,923.1 L1258.1,926.5 L1257.2,929.8 L1256.3,933.0 L1255.6,935.4 L1254.9,937.8 L1254.3,940.2 L1253.6,942.5 L1253.0,944.8 L1252.3,947.0 L1251.6,949.2 L1250.9,951.3 L1250.2,953.3 L1249.4,955.3 L1248.6,957.2 L1247.7,959.0 L1247.0,960.4 L1246.2,961.8 L1245.5,963.2 L1244.7,964.5 L1244.0,965.8 L1243.2,967.1 L1242.3,968.3 L1241.5,969.4 L1240.6,970.5 L1239.6,971.6 L1238.6,972.5 L1237.6,973.4 L1236.6,974.2 L1235.5,974.8 L1234.4,975.4 L1233.3,976.0 L1232.1,976.4 L1230.9,976.9 L1229.7,977.3 L1228.4,977.7 L1227.1,978.0 L1225.8,978.4 L1224.5,978.8 L1223.1,979.2 L1221.4,979.7 L1219.5,980.2 L1217.6,980.6 L1215.6,981.0 L1213.5,981.4 L1211.5,981.8 L1209.4,982.2 L1207.4,982.6 L1205.4,982.9 L1203.5,983.3 L1201.7,983.6 L1200.0,984.0 L1198.9,984.3 L1197.8,984.5 L1196.8,984.7 L1195.8,985.0 L1194.9,985.2 L1194.0,985.4 L1193.1,985.7 L1192.1,985.9 L1191.1,986.1 L1190.0,986.3 L1188.9,986.6 L1187.6,986.8 L1185.1,987.2 L1182.4,987.7 L1179.5,988.1 L1176.3,988.5 L1173.0,989.0 L1169.7,989.4 L1166.2,989.9 L1162.7,990.3 L1159.2,990.7 L1155.7,991.2 L1152.3,991.5 L1149.0,991.9 L1145.8,992.2 L1142.6,992.6 L1139.5,992.9 L1136.3,993.2 L1133.2,993.5 L1130.0,993.7 L1126.8,994.0 L1123.6,994.2 L1120.4,994.5 L1117.1,994.7 L1113.7,995.0 L1110.3,995.2 L1106.2,995.5 L1102.0,995.7 L1097.8,995.9 L1093.4,996.1 L1089.0,996.4 L1084.5,996.6 L1080.1,996.7 L1075.6,996.9 L1071.3,997.1 L1067.0,997.3 L1062.8,997.5 L1058.7,997.7 L1055.3,997.9 L1051.9,998.1 L1048.6,998.2 L1045.4,998.4 L1042.2,998.6 L1039.0,998.8 L1035.9,998.9 L1032.7,999.1 L1029.6,999.3 L1026.4,999.4 L1023.2,999.6 L1020.0,999.7 L1016.8,999.8 L1013.6,1000.0 L1010.6,1000.1 L1007.6,1000.2 L1004.5,1000.3 L1001.5,1000.4 L998.3,1000.5 L995.1,1000.6 L991.6,1000.7 L988.0,1000.8 L984.1,1000.9 L980.0,1001.0 L971.8,1001.2 L962.8,1001.4 L953.0,1001.7 L942.5,1001.9 L931.6,1002.2 L920.2,1002.4 L908.6,1002.7 L896.8,1002.9 L884.9,1003.2 L873.1,1003.4 L861.4,1003.6 L850.0,1003.8 L837.8,1004.0 L825.3,1004.2 L812.5,1004.3 L799.7,1004.5 L786.7,1004.6 L773.8,1004.7 L760.9,1004.8 L748.2,1004.9 L735.6,1005.0 L723.4,1005.1 L711.5,1005.2 L700.0,1005.3 L691.1,1005.4 L682.6,1005.4 L674.4,1005.5 L666.4,1005.5 L658.6,1005.5 L650.9,1005.5 L643.1,1005.6 L635.1,1005.6 L626.9,1005.6 L618.4,1005.6 L609.5,1005.7 L600.0,1005.7 L585.8,1005.7 L570.9,1005.8 L555.3,1005.9 L539.1,1005.9 L522.5,1006.0 L505.5,1006.0 L488.2,1006.1 L470.6,1006.1 L453.0,1006.2 L435.3,1006.2 L417.6,1006.3 L400.0,1006.3 L380.6,1006.3 L360.9,1006.4 L340.9,1006.4 L320.8,1006.4 L300.4,1006.5 L280.0,1006.5 L259.4,1006.5 L238.9,1006.5 L218.3,1006.5 L197.8,1006.6 L177.3,1006.6 L157.0,1006.6" stroke="#2216c4" stroke-width="4.6"/>
<path d="M1210.1,20.0 L1209.9,21.7 L1209.7,23.3 L1209.4,25.0 L1209.2,26.7 L1209.0,28.3 L1208.7,30.0 L1208.5,31.7 L1208.3,33.3 L1208.1,35.0 L1207.8,36.7 L1207.6,38.3 L1207.4,40.0 L1207.1,41.7 L1206.9,43.3 L1206.7,45.0 L1206.5,46.7 L1206.2,48.3 L1206.0,50.0 L1205.8,51.7 L1205.6,53.3 L1205.3,55.0 L1205.1,56.7 L1204.9,58.3 L1204.6,60.0 L1204.4,61.7 L1204.2,63.3 L1204.0,65.0 L1203.7,66.7 L1203.5,68.3 L1203.3,70.0 L1203.1,71.7 L1202.8,73.3 L1202.6,75.0 L1202.4,76.7 L1202.2,78.3 L1201.9,80.0 L1201.7,81.7 L1201.5,83.3 L1201.3,85.0 L1201.0,86.7 L1200.8,88.3 L1200.6,90.0 L1200.4,91.7 L1200.1,93.3 L1199.9,95.0 L1199.7,96.7 L1199.5,98.3 L1199.2,100.0 L1199.0,101.7 L1198.8,103.3 L1198.6,105.0 L1198.3,106.7 L1198.1,108.3 L1197.9,110.0 L1197.7,111.7 L1197.4,113.3 L1197.2,115.0 L1197.0,116.7 L1196.8,118.3 L1196.6,120.0 L1196.3,121.7 L1196.1,123.3 L1195.9,125.0 L1195.7,126.7 L1195.4,128.3 L1195.2,130.0 L1195.0,131.7 L1194.8,133.3 L1194.5,135.0 L1194.3,136.7 L1194.1,138.3 L1193.9,140.0 L1193.7,141.7 L1193.4,143.3 L1193.2,145.0 L1193.0,146.7 L1192.8,148.3 L1192.5,150.0 L1192.3,151.7 L1192.1,153.3 L1191.9,155.0 L1191.6,156.7 L1191.4,158.3 L1191.2,160.0 L1191.0,161.7 L1190.8,163.3 L1190.5,165.0 L1190.3,166.7 L1190.1,168.3 L1189.9,170.0 L1189.6,171.7 L1189.4,173.3 L1189.2,175.0 L1189.0,176.7 L1188.7,178.3 L1188.5,180.0 L1188.3,181.7 L1188.1,183.3 L1187.9,185.0 L1187.6,186.7 L1187.4,188.3 L1187.2,190.0 L1187.0,191.7 L1186.7,193.3 L1186.5,195.0 L1186.3,196.7 L1186.1,198.3 L1185.8,200.0 L1185.6,201.7 L1185.4,203.3 L1185.2,205.0 L1184.9,206.7 L1184.7,208.3 L1184.5,210.0 L1184.3,211.7 L1184.1,213.3 L1183.8,215.0 L1183.6,216.7 L1183.4,218.3 L1183.2,220.0 L1182.9,221.7 L1182.7,223.3 L1182.5,225.0 L1182.3,226.7 L1182.0,228.3 L1181.8,230.0 L1181.6,231.7 L1181.4,233.3 L1181.1,235.0 L1180.9,236.7 L1180.7,238.3 L1180.5,240.0 L1180.2,241.7 L1180.0,243.3 L1179.8,245.0 L1179.6,246.7 L1179.3,248.3 L1179.1,250.0 L1178.9,251.7 L1178.7,253.3 L1178.4,255.0 L1178.2,256.7 L1178.0,258.3 L1177.8,260.0 L1177.5,261.7 L1177.3,263.3 L1177.1,265.0 L1176.9,266.7 L1176.6,268.3 L1176.4,270.0 L1176.2,271.7 L1176.0,273.3 L1175.7,275.0 L1175.5,276.7 L1175.3,278.3 L1175.1,280.0 L1174.8,281.7 L1174.6,283.3 L1174.4,285.0 L1174.2,286.7 L1173.9,288.3 L1173.7,290.0 L1173.5,291.7 L1173.2,293.3 L1173.0,295.0 L1172.8,296.7 L1172.6,298.3 L1172.3,300.0 L1172.1,301.7 L1171.9,303.3 L1171.7,305.0 L1171.4,306.7 L1171.2,308.3 L1171.0,310.0 L1170.7,311.7 L1170.5,313.3 L1170.3,315.0 L1170.1,316.7 L1169.8,318.3 L1169.6,320.0 L1169.4,321.7 L1169.1,323.3 L1168.9,325.0 L1168.7,326.7 L1168.4,328.3 L1168.2,330.0 L1168.0,331.7 L1167.8,333.3 L1167.5,335.0 L1167.3,336.7 L1167.1,338.3 L1166.8,340.0 L1166.6,341.7 L1166.4,343.3 L1166.1,345.0 L1165.9,346.7 L1165.7,348.3 L1165.4,350.0 L1165.2,351.7 L1165.0,353.3 L1164.7,355.0 L1164.5,356.7 L1164.3,358.3 L1164.0,360.0 L1163.8,361.7 L1163.6,363.3 L1163.3,365.0 L1163.1,366.7 L1162.9,368.3 L1162.6,370.0 L1162.4,371.7 L1162.2,373.3 L1161.9,375.0 L1161.7,376.7 L1161.5,378.3 L1161.2,380.0 L1161.0,381.7 L1160.8,383.3 L1160.5,385.0 L1160.3,386.7 L1160.1,388.3 L1159.8,390.0 L1159.6,391.7 L1159.3,393.3 L1159.1,395.0 L1158.9,396.7 L1158.6,398.3 L1158.4,400.0 L1158.2,401.7 L1157.9,403.3 L1157.7,405.0 L1157.4,406.7 L1157.2,408.3 L1157.0,410.0 L1156.7,411.7 L1156.5,413.3 L1156.2,415.0 L1156.0,416.7 L1155.8,418.3 L1155.5,420.0 L1155.3,421.7 L1155.0,423.3 L1154.8,425.0 L1154.6,426.7 L1154.3,428.3 L1154.1,430.0 L1153.8,431.7 L1153.6,433.3 L1153.3,435.0 L1153.1,436.7 L1152.9,438.3 L1152.6,440.0 L1152.4,441.7 L1152.1,443.3 L1151.9,445.0 L1151.6,446.7 L1151.4,448.3 L1151.2,450.0 L1150.9,451.7 L1150.7,453.3 L1150.4,455.0 L1150.2,456.7 L1149.9,458.3 L1149.7,460.0 L1149.4,461.7 L1149.2,463.3 L1148.9,465.0 L1148.7,466.7 L1148.4,468.3 L1148.2,470.0 L1147.9,471.7 L1147.7,473.3 L1147.4,475.0 L1147.2,476.7 L1146.9,478.3 L1146.7,480.0 L1146.4,481.7 L1146.2,483.3 L1145.9,485.0 L1145.7,486.7 L1145.4,488.3 L1145.2,490.0 L1144.9,491.7 L1144.7,493.3 L1144.4,495.0 L1144.2,496.7 L1143.9,498.3 L1143.7,500.0 L1143.4,501.7 L1143.2,503.3 L1142.9,505.0 L1142.7,506.7 L1142.4,508.3 L1142.1,510.0 L1141.9,511.7 L1141.6,513.3 L1141.4,515.0 L1141.1,516.7 L1140.9,518.3 L1140.6,520.0 L1140.3,521.7 L1140.1,523.3 L1139.8,525.0 L1139.6,526.7 L1139.3,528.3 L1139.1,530.0 L1138.8,531.7 L1138.5,533.3 L1138.3,535.0 L1138.0,536.7 L1137.8,538.3 L1137.5,540.0 L1137.2,541.7 L1137.0,543.3 L1136.7,545.0 L1136.4,546.7 L1136.2,548.3 L1135.9,550.0 L1135.7,551.7 L1135.4,553.3 L1135.1,555.0 L1134.9,556.7 L1134.6,558.3 L1134.3,560.0 L1134.1,561.7 L1133.8,563.3 L1133.5,565.0 L1133.3,566.7 L1133.0,568.3 L1132.7,570.0 L1132.5,571.7 L1132.2,573.3 L1131.9,575.0 L1131.7,576.7 L1131.4,578.3 L1131.1,580.0 L1130.8,581.7 L1130.6,583.3 L1130.3,585.0 L1130.0,586.7 L1129.8,588.3 L1129.5,590.0 L1129.2,591.7 L1128.9,593.3 L1128.7,595.0 L1128.4,596.7 L1128.1,598.3 L1127.8,600.0 L1127.6,601.7 L1127.3,603.3 L1127.0,605.0 L1126.7,606.7 L1126.5,608.3 L1126.2,610.0 L1125.9,611.7 L1125.6,613.3 L1125.4,615.0 L1125.1,616.7 L1124.8,618.3 L1124.5,620.0 L1124.2,621.7 L1124.0,623.3 L1123.7,625.0 L1123.4,626.7 L1123.1,628.3 L1122.8,630.0 L1122.5,631.7 L1122.3,633.3 L1122.0,635.0 L1121.7,636.7 L1121.4,638.3 L1121.1,640.0 L1120.8,641.7 L1120.6,643.3 L1120.3,645.0 L1120.0,646.7 L1119.7,648.3 L1119.4,650.0 L1119.1,651.7 L1118.8,653.3 L1118.5,655.0 L1118.3,656.7 L1118.0,658.3 L1117.7,660.0 L1117.4,661.7 L1117.1,663.3 L1116.8,665.0 L1116.5,666.7 L1116.2,668.3 L1115.9,670.0 L1115.6,671.7 L1115.3,673.3 L1115.0,675.0 L1114.7,676.7 L1114.4,678.3 L1114.2,680.0 L1113.8,681.7 L1113.5,683.5 L1113.2,685.3 L1112.9,687.2 L1112.5,689.0 L1112.2,690.8 L1111.9,692.6 L1111.6,694.3 L1111.3,695.9 L1111.0,697.4 L1110.8,698.8 L1110.6,700.0 L1110.5,700.5 L1110.4,701.0 L1110.3,701.4 L1110.3,701.7 L1110.2,702.1 L1110.2,702.4 L1110.1,702.7 L1110.0,703.1 L1110.0,703.5 L1109.9,703.9 L1109.8,704.4 L1109.7,705.0 L1109.1,707.3 L1108.5,710.3 L1107.6,713.8 L1106.7,717.8 L1105.7,722.1 L1104.6,726.6 L1103.4,731.3 L1102.2,736.1 L1101.0,740.9 L1099.8,745.5 L1098.7,749.9 L1097.6,754.0 L1096.6,757.6 L1095.7,761.1 L1094.7,764.6 L1093.8,768.0 L1092.8,771.5 L1091.8,774.9 L1090.8,778.3 L1089.8,781.7 L1088.8,785.1 L1087.7,788.5 L1086.6,792.0 L1085.5,795.6 L1084.2,799.5 L1082.9,803.5 L1081.5,807.5 L1080.0,811.6 L1078.6,815.7 L1077.1,819.8 L1075.6,823.9 L1074.1,828.0 L1072.6,832.0 L1071.1,836.1 L1069.6,840.1 L1068.1,844.1 L1066.7,848.0 L1065.3,851.9 L1063.9,855.9 L1062.4,860.0 L1061.0,864.0 L1059.6,867.9 L1058.2,871.8 L1056.7,875.6 L1055.3,879.3 L1053.8,882.8 L1052.3,886.1 L1050.8,889.2 L1049.7,891.3 L1048.7,893.2 L1047.6,895.1 L1046.6,896.8 L1045.5,898.5 L1044.4,900.1 L1043.3,901.7 L1042.2,903.3 L1041.0,904.9 L1039.7,906.6 L1038.4,908.3 L1037.0,910.0 L1035.1,912.3 L1033.0,914.7 L1030.8,917.2 L1028.5,919.7 L1026.1,922.2 L1023.6,924.7 L1021.1,927.2 L1018.7,929.5 L1016.2,931.8 L1013.8,934.0 L1011.5,935.9 L1009.3,937.7 L1007.8,938.8 L1006.3,939.9 L1004.8,940.9 L1003.4,941.8 L1002.0,942.7 L1000.6,943.5 L999.1,944.3 L997.7,945.1 L996.3,945.8 L994.9,946.5 L993.5,947.3 L992.0,948.0 L990.6,948.7 L989.2,949.4 L987.9,950.1 L986.5,950.7 L985.2,951.3 L983.8,951.9 L982.4,952.5 L981.0,953.1 L979.5,953.7 L978.0,954.2 L976.4,954.8 L974.7,955.3 L972.3,956.0 L969.8,956.7 L967.1,957.3 L964.4,957.9 L961.6,958.4 L958.7,959.0 L955.7,959.5 L952.7,960.0 L949.6,960.6 L946.4,961.1 L943.2,961.6 L940.0,962.2 L935.8,962.9 L931.4,963.6 L927.0,964.3 L922.4,965.0 L917.8,965.7 L913.0,966.4 L908.2,967.1 L903.2,967.8 L898.2,968.6 L893.0,969.3 L887.8,970.1 L882.4,970.9 L875.2,972.0 L867.6,973.1 L859.6,974.3 L851.5,975.6 L843.1,976.9 L834.7,978.1 L826.2,979.4 L817.8,980.7 L809.4,981.9 L801.2,983.1 L793.3,984.3 L785.7,985.4 L779.4,986.3 L773.1,987.2 L767.0,988.1 L760.9,989.0 L754.9,989.9 L749.0,990.8 L743.1,991.6 L737.3,992.4 L731.6,993.1 L725.9,993.8 L720.3,994.5 L714.7,995.1 L709.9,995.6 L705.1,996.0 L700.3,996.4 L695.6,996.8 L691.0,997.1 L686.4,997.5 L681.8,997.7 L677.3,998.0 L672.9,998.3 L668.5,998.5 L664.2,998.8 L660.0,999.0 L656.5,999.2 L653.1,999.4 L649.8,999.5 L646.5,999.6 L643.3,999.8 L640.1,999.9 L636.9,1000.0 L633.7,1000.1 L630.4,1000.2 L627.1,1000.3 L623.6,1000.5 L620.0,1000.6 L615.4,1000.8 L610.7,1001.0 L605.9,1001.2 L600.9,1001.4 L595.9,1001.6 L590.8,1001.8 L585.6,1002.0 L580.4,1002.2 L575.3,1002.4 L570.1,1002.6 L565.0,1002.8 L560.0,1003.0 L555.0,1003.2 L550.2,1003.4 L545.4,1003.5 L540.6,1003.7 L535.8,1003.9 L531.0,1004.1 L526.1,1004.2 L521.1,1004.4 L516.1,1004.6 L510.9,1004.7 L505.5,1004.9 L500.0,1005.0 L492.7,1005.2 L485.3,1005.3 L477.8,1005.4 L470.2,1005.6 L462.3,1005.7 L454.3,1005.8 L446.1,1005.9 L437.5,1006.0 L428.7,1006.1 L419.5,1006.2 L409.9,1006.2 L400.0,1006.3 L383.5,1006.4 L365.6,1006.5 L346.7,1006.5 L326.9,1006.6 L306.3,1006.6 L285.1,1006.6 L263.6,1006.6 L241.9,1006.6 L220.2,1006.6 L198.7,1006.6 L177.6,1006.6 L157.0,1006.6" stroke="#141414" stroke-width="4.3"/>
</g>
<line x1="988" y1="77.8" x2="1189.7" y2="77.8" stroke="#40659a" stroke-width="4"/><path d="M1166.2,64.8 L1191.7,77.8 L1166.2,90.3" fill="none" stroke="#40659a" stroke-width="3.8" stroke-linecap="round" stroke-linejoin="miter"/>
<line x1="1058.9" y1="159.1" x2="1342.2" y2="159.1" stroke="#40659a" stroke-width="4"/><path d="M1318.7,146.1 L1344.2,159.1 L1318.7,171.6" fill="none" stroke="#40659a" stroke-width="3.8" stroke-linecap="round" stroke-linejoin="miter"/>
<line x1="1154.3" y1="270" x2="1287.5" y2="270" stroke="#40659a" stroke-width="4"/><path d="M1264.0,257 L1289.5,270 L1264.0,282.5" fill="none" stroke="#40659a" stroke-width="3.8" stroke-linecap="round" stroke-linejoin="miter"/>
<line x1="1072.3" y1="409" x2="1355.4" y2="409" stroke="#40659a" stroke-width="4"/><path d="M1331.9,396 L1357.4,409 L1331.9,421.5" fill="none" stroke="#40659a" stroke-width="3.8" stroke-linecap="round" stroke-linejoin="miter"/>
<text x="866.4" y="101.9" font-family="'Liberation Sans', sans-serif" font-weight="bold" font-style="normal" font-size="62" fill="#000000" textLength="98.0" lengthAdjust="spacingAndGlyphs">ITO</text>
<text x="769.3" y="185.4" font-family="'Liberation Sans', sans-serif" font-weight="bold" font-style="normal" font-size="62" fill="#0c08d4" textLength="246.6" lengthAdjust="spacingAndGlyphs">ITO/MoO</text>
<text x="1014.0" y="199.6" font-family="'Liberation Serif', serif" font-weight="normal" font-style="italic" font-size="41.5" fill="#1a10b8" textLength="22.1" lengthAdjust="spacingAndGlyphs">x</text>
<text x="687.2" y="288.2" font-family="'Liberation Sans', sans-serif" font-weight="bold" font-style="normal" font-size="62" fill="#14e614" textLength="449.4" lengthAdjust="spacingAndGlyphs">ITO/PEDOT:PSS</text>
<text x="742.5" y="384.4" font-family="'Liberation Sans', sans-serif" font-weight="bold" font-style="normal" font-size="62" fill="#e0101e" textLength="332.9" lengthAdjust="spacingAndGlyphs">ITO/PEDOT:</text>
<text x="743.8" y="454.8" font-family="'Liberation Sans', sans-serif" font-weight="bold" font-style="normal" font-size="62" fill="#e0101e" textLength="265.3" lengthAdjust="spacingAndGlyphs">PSS/MoO</text>
<text x="1007.3" y="468.6" font-family="'Liberation Serif', serif" font-weight="normal" font-style="italic" font-size="40.5" fill="#c81830" textLength="20.6" lengthAdjust="spacingAndGlyphs">x</text>
<rect x="154.8" y="36.3" width="1313.6" height="981.0" fill="none" stroke="#000" stroke-width="5" stroke-linejoin="round"/>
<line x1="341.8" y1="992.5" x2="341.8" y2="1017.3" stroke="#000" stroke-width="4.5"/>
<line x1="529.8" y1="992.5" x2="529.8" y2="1017.3" stroke="#000" stroke-width="4.5"/>
<line x1="716.5" y1="992.5" x2="716.5" y2="1017.3" stroke="#000" stroke-width="4.5"/>
<line x1="903.3" y1="992.5" x2="903.3" y2="1017.3" stroke="#000" stroke-width="4.5"/>
<line x1="1090.7" y1="992.5" x2="1090.7" y2="1017.3" stroke="#000" stroke-width="4.5"/>
<line x1="1279.5" y1="992.5" x2="1279.5" y2="1017.3" stroke="#000" stroke-width="4.5"/>
<line x1="248.3" y1="1003" x2="248.3" y2="1017.3" stroke="#000" stroke-width="4"/>
<line x1="434.3" y1="1003" x2="434.3" y2="1017.3" stroke="#000" stroke-width="4"/>
<line x1="622" y1="1003" x2="622" y2="1017.3" stroke="#000" stroke-width="4"/>
<line x1="809.8" y1="1003" x2="809.8" y2="1017.3" stroke="#000" stroke-width="4"/>
<line x1="996.8" y1="1003" x2="996.8" y2="1017.3" stroke="#000" stroke-width="4"/>
<line x1="1185" y1="1003" x2="1185" y2="1017.3" stroke="#000" stroke-width="4"/>
<line x1="1375.5" y1="1003" x2="1375.5" y2="1017.3" stroke="#000" stroke-width="4"/>
<text x="91.7" y="1093.5" font-family="'Liberation Sans', sans-serif" font-weight="bold" font-style="normal" font-size="63" fill="#000" textLength="122.0" lengthAdjust="spacingAndGlyphs">19.0</text>
<text x="278.6" y="1093.5" font-family="'Liberation Sans', sans-serif" font-weight="bold" font-style="normal" font-size="63" fill="#000" textLength="122.8" lengthAdjust="spacingAndGlyphs">18.5</text>
<text x="466.6" y="1093.5" font-family="'Liberation Sans', sans-serif" font-weight="bold" font-style="normal" font-size="63" fill="#000" textLength="122.8" lengthAdjust="spacingAndGlyphs">18.0</text>
<text x="654.7" y="1093.5" font-family="'Liberation Sans', sans-serif" font-weight="bold" font-style="normal" font-size="63" fill="#000" textLength="122.0" lengthAdjust="spacingAndGlyphs">17.5</text>
<text x="840.9" y="1093.5" font-family="'Liberation Sans', sans-serif" font-weight="bold" font-style="normal" font-size="63" fill="#000" textLength="122.8" lengthAdjust="spacingAndGlyphs">17.0</text>
<text x="1028.2" y="1093.5" font-family="'Liberation Sans', sans-serif" font-weight="bold" font-style="normal" font-size="63" fill="#000" textLength="122.6" lengthAdjust="spacingAndGlyphs">16.5</text>
<text x="1218.3" y="1093.5" font-family="'Liberation Sans', sans-serif" font-weight="bold" font-style="normal" font-size="63" fill="#000" textLength="121.5" lengthAdjust="spacingAndGlyphs">16.0</text>
<text x="1406.5" y="1093.5" font-family="'Liberation Sans', sans-serif" font-weight="bold" font-style="normal" font-size="63" fill="#000" textLength="122.6" lengthAdjust="spacingAndGlyphs">15.5</text>
<text x="510.8" y="1168.8" font-family="'Liberation Sans', sans-serif" font-weight="bold" font-style="normal" font-size="63.5" fill="#000" textLength="598.3" lengthAdjust="spacingAndGlyphs">Binding energy (eV)</text>
<text transform="translate(83.5,764.0) rotate(-90)" x="0" y="0" font-family="'Liberation Sans', sans-serif" font-weight="bold" font-style="normal" font-size="63.5" fill="#000" textLength="430.8" lengthAdjust="spacingAndGlyphs">Intensity (a.u.)</text>
</svg></div></body></html>
